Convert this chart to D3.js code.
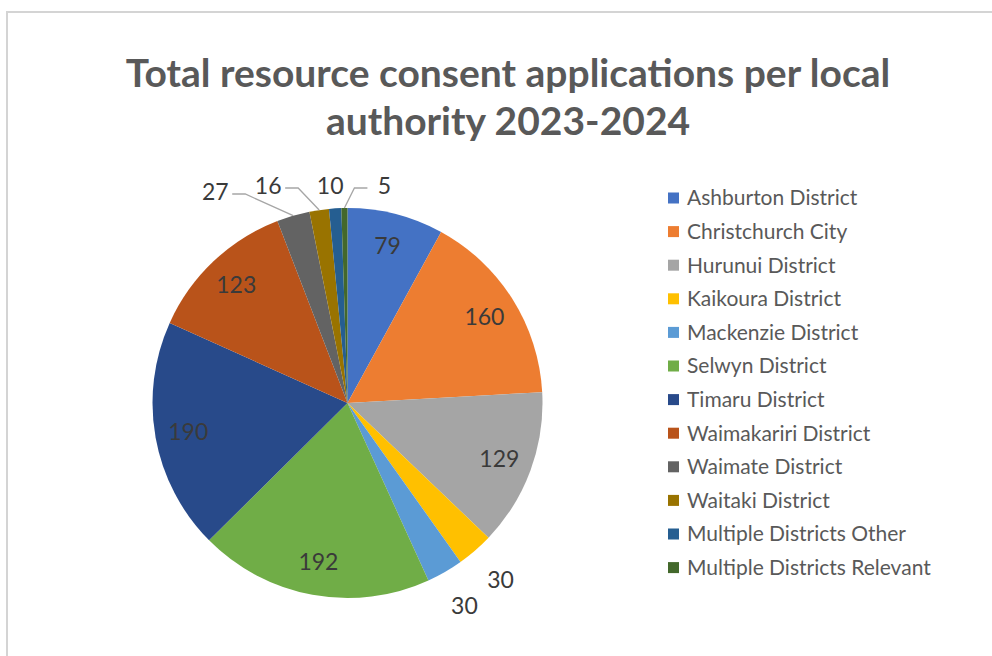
<!DOCTYPE html>
<html>
<head>
<meta charset="utf-8">
<script src="https://cdn.jsdelivr.net/npm/d3@7"></script>
<style>
  body { margin: 0; background: #fff; }
  text { font-family: "Lato", "Open Sans", sans-serif; }
</style>
</head>
<body>
<div id="chart"></div>
<script>
// chart data
var categories = ["Ashburton District", "Christchurch City", "Hurunui District", "Kaikoura District",
  "Mackenzie District", "Selwyn District", "Timaru District", "Waimakariri District",
  "Waimate District", "Waitaki District", "Multiple Districts Other", "Multiple Districts Relevant"];
var values = [79, 160, 129, 30, 30, 192, 190, 123, 27, 16, 10, 5];
var colors = ["#4472C4", "#ED7D31", "#A5A5A5", "#FFC000", "#5B9BD5", "#70AD47",
  "#284A8A", "#B9531A", "#636363", "#997300", "#255E91", "#43682B"];
var titleLines = ["Total resource consent applications per local", "authority 2023-2024"];

// where each value label goes: inside, outside, or above the pie with a leader line
var labelMode = ["in", "in", "in", "out", "out", "in", "in", "in", "top", "top", "top", "top"];
// extra shift for the labels stacked above the pie
var topShift = { 8: [-78, 6], 9: [-51, 0], 10: [-5, 0], 11: [40, 0] };

var width = 992, height = 656;
var cx = 347.5, cy = 403, R = 195;

var svg = d3.select("#chart").append("svg")
  .attr("width", width)
  .attr("height", height);

// frame
svg.append("path")
  .attr("d", "M7," + height + "V12H" + width)
  .attr("fill", "none")
  .attr("stroke", "#d4d4d4")
  .attr("stroke-width", 2);

// title
svg.append("g").selectAll("text")
  .data(titleLines)
  .enter().append("text")
  .attr("x", 508)
  .attr("y", function (d, i) { return 87 + i * 48; })
  .attr("text-anchor", "middle")
  .attr("font-size", 39)
  .attr("font-weight", "bold")
  .attr("fill", "#595959")
  .text(function (d) { return d; });

// pie
var pie = d3.pie().sort(null).value(function (d) { return d; });
var arcs = pie(values);
var arc = d3.arc().innerRadius(0).outerRadius(R);
var inArc = d3.arc().innerRadius(R * 0.83).outerRadius(R * 0.83);
var outArc = d3.arc().innerRadius(R * 1.2).outerRadius(R * 1.2);
var edgeArc = d3.arc().innerRadius(R).outerRadius(R);

var g = svg.append("g").attr("transform", "translate(" + cx + "," + cy + ")");

g.selectAll("path.slice")
  .data(arcs)
  .enter().append("path")
  .attr("class", "slice")
  .attr("d", arc)
  .attr("fill", function (d, i) { return colors[i]; });

// value labels
arcs.forEach(function (d, i) {
  var mode = labelMode[i], x, y;
  if (mode === "in") {
    x = inArc.centroid(d)[0]; y = inArc.centroid(d)[1];
  } else if (mode === "out") {
    x = outArc.centroid(d)[0]; y = outArc.centroid(d)[1];
  } else {
    var a = edgeArc.centroid(d);
    x = a[0] + topShift[i][0];
    y = -R - 22 + topShift[i][1];
    // leader line from label to slice edge
    if (Math.abs(x - a[0]) > 15) {
      var side = x < a[0] ? 1 : -1;
      var lx = x + side * 17;
      g.append("polyline")
        .attr("points", [[lx, y + 2], [lx + side * 13, y + 2], a].map(function (p) { return p.join(","); }).join(" "))
        .attr("fill", "none")
        .attr("stroke", "#a6a6a6")
        .attr("stroke-width", 1.3);
    }
  }
  g.append("text")
    .attr("x", x)
    .attr("y", y)
    .attr("dy", "0.35em")
    .attr("text-anchor", "middle")
    .attr("font-size", 23)
    .attr("fill", "#3a3a3a")
    .text(values[i]);
});

// legend
var legend = svg.append("g").attr("transform", "translate(668,198)");
var rows = legend.selectAll("g")
  .data(categories)
  .enter().append("g")
  .attr("transform", function (d, i) { return "translate(0," + (i * 33.6) + ")"; });
rows.append("rect")
  .attr("x", 0).attr("y", -5.5)
  .attr("width", 11).attr("height", 11)
  .attr("fill", function (d, i) { return colors[i]; });
rows.append("text")
  .attr("x", 19)
  .attr("dy", "0.35em")
  .attr("font-size", 21)
  .attr("fill", "#595959")
  .text(function (d) { return d; });
</script>
</body>
</html>
